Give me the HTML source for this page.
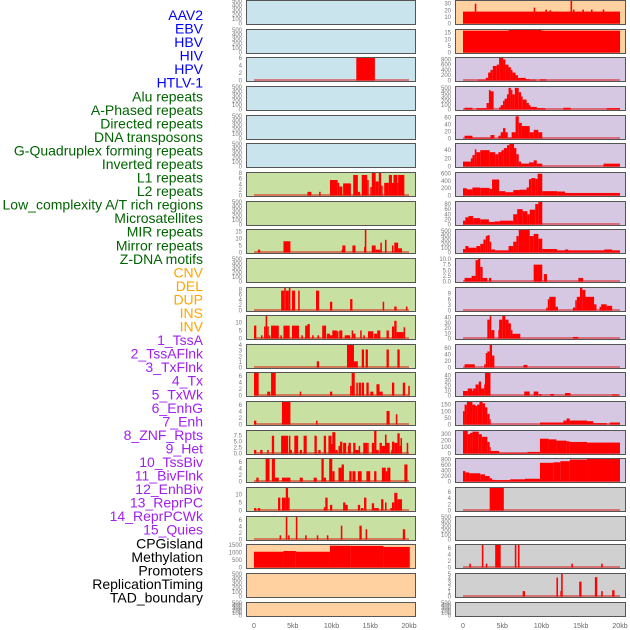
<!DOCTYPE html>
<html><head><meta charset="utf-8"><style>
html,body{margin:0;padding:0;background:#fff;}
svg{display:block;font-family:"Liberation Sans",sans-serif;}
</style></head><body>
<svg id="chart" width="630" height="630" viewBox="0 0 630 630" xmlns="http://www.w3.org/2000/svg"></svg>
<script>
const labels = ["AAV2","EBV","HBV","HIV","HPV","HTLV-1","Alu repeats","A-Phased repeats","Directed repeats","DNA transposons","G-Quadruplex forming repeats","Inverted repeats","L1 repeats","L2 repeats","Low_complexity A/T rich regions","Microsatellites","MIR repeats","Mirror repeats","Z-DNA motifs","CNV","DEL","DUP","INS","INV","1_TssA","2_TssAFlnk","3_TxFlnk","4_Tx","5_TxWk","6_EnhG","7_Enh","8_ZNF_Rpts","9_Het","10_TssBiv","11_BivFlnk","12_EnhBiv","13_ReprPC","14_ReprPCWk","15_Quies","CPGisland","Methylation","Promoters","ReplicationTiming","TAD_boundary"];
const labelGroups = [6,13,5,15,5];
const xTicks = [0,5,10,15,20];
const xTickLabels = ["0","5kb","10kb","15kb","20kb"];
const emptyTicks = [0,100,200,300,400,500];

const L2 = [[13.2,15.6,6]];
const L6 = [[6.9,7.4,1.3],[8.4,8.6,1.3],[9.8,10.8,5.5],[10.8,11.0,4.5],[11.0,11.4,3.2],[11.5,12.5,4.3],[12.8,13.4,7.3],[13.4,13.7,1.3],[13.9,14.6,7.3],[14.6,14.8,5.5],[15.0,15.2,3],[15.2,15.7,8],[15.7,16.1,5],[16.1,16.4,8],[16.4,16.6,3.5],[16.8,17.4,4.5],[17.4,17.8,7.3],[17.8,18.0,4.5],[18.0,18.5,7.3],[18.5,18.6,4.5],[18.6,19.4,7.3]];
const L8 = [[0.5,0.8,2],[3.8,4.7,8],[11.3,11.4,2],[11.4,11.8,5],[12.7,13.1,5],[14.2,14.3,4],[14.3,14.5,16],[15.2,15.7,5],[15.7,16.3,2],[16.3,16.5,7],[16.9,17.1,9],[17.8,18.0,5],[18.1,18.6,7],[18.6,19.1,3]];
const L10 = [[3.5,3.9,7.5],[3.9,4.1,8.5],[4.1,4.5,7.5],[4.5,4.7,8.5],[4.9,5.3,7.5],[5.7,5.9,7.5],[8.0,8.4,7.5],[9.8,10.1,3.3],[12.4,12.7,4.3],[16.6,16.8,3.3],[18.1,18.4,1.5],[19.6,19.8,1.5]];
const L11 = [[0,0.3,8],[0.9,1.1,2],[1.3,1.5,7.5],[1.5,1.7,14],[1.7,1.9,7.5],[1.9,2.1,2],[2.2,3.2,8],[3.4,3.6,2],[3.8,4.6,8],[4.9,5.8,8],[6.1,6.3,2],[6.6,6.9,8],[6.9,7.2,9],[7.5,7.7,2],[8.2,8.4,2],[8.8,9.3,8],[9.4,9.8,3],[9.8,10.1,2],[10.1,10.7,5],[10.7,10.9,4.5],[11.0,11.4,5],[11.7,12.4,2],[12.6,12.8,5],[12.8,13.1,3],[13.7,13.9,5],[14.1,14.3,2],[14.7,15.4,4.5],[15.5,15.9,3],[15.9,16.3,5],[17.1,17.4,5],[17.8,18.1,7.5],[18.1,18.4,11],[18.4,19.3,4],[19.3,19.5,7]];
const L12 = [[8.1,8.4,1.1],[12.0,12.9,4],[12.9,13.4,1.1],[13.9,14.2,3.2],[14.4,14.7,3.2],[17.1,17.4,3.2],[18.5,18.8,3.2]];
const L13 = [[0,0.6,7],[1.7,2.1,1.2],[2.2,2.8,7],[5.9,6.1,1.2],[9.8,10.1,1.2],[12.4,12.6,3],[12.6,13.0,7],[13.2,13.4,4],[13.5,13.8,4],[13.9,14.2,4],[14.5,14.8,4],[15.0,15.4,1.2],[15.8,16.2,3.5],[16.2,16.6,1.2],[17.8,18.1,4],[19.2,19.5,4],[19.9,20.1,3]];
const L14 = [[0,0.3,1.2],[3.6,4.7,7],[8.0,8.2,1.2],[17.1,17.5,4.2],[18.3,18.5,3.2]];
const L15 = [[0,0.3,1.5],[0.8,1.1,1.5],[1.7,1.9,1.5],[2.3,2.6,7.5],[3.5,4.4,7.5],[4.5,4.7,7.5],[4.7,4.9,1.5],[5.2,5.7,7.5],[5.9,6.2,1.5],[6.4,6.8,7.5],[7.8,8.1,7.5],[8.3,8.6,1.5],[9.0,9.3,7.5],[9.6,10.0,7.5],[10.0,10.2,4],[10.1,10.5,9],[10.5,10.8,1.5],[10.9,11.2,3.2],[11.1,11.4,5],[11.5,11.9,4.5],[12.1,12.4,3.2],[12.2,12.5,4.5],[12.8,13.1,4.5],[13.1,13.5,1.5],[13.5,13.7,3.2],[14.1,14.6,4.5],[14.6,14.8,4.5],[15.2,15.5,4.5],[15.5,15.8,9.5],[15.8,16.1,1.5],[16.2,16.5,4.5],[16.5,16.9,3.2],[16.9,17.1,8],[17.1,17.5,4.5],[17.7,17.8,1.5],[17.8,18.1,5],[18.1,18.5,4.5],[18.5,18.8,8.5],[18.8,19.1,3.2],[18.9,19.1,6.5],[19.7,19.9,4.5]];
const L16 = [[0.3,0.6,1.2],[1.5,2.0,7],[2.3,2.7,7],[2.7,3.2,1.2],[3.6,4.7,1.2],[5.9,6.3,1.2],[7.7,8.1,1.2],[8.7,9.0,7],[9.0,9.3,1.2],[9.7,10.1,7],[10.1,10.4,3.2],[10.9,11.3,4.3],[11.3,11.6,5.3],[12.3,12.6,3.2],[12.7,13.1,3.2],[13.4,13.9,3.2],[14.5,15.0,3.2],[15.5,15.8,3.2],[16.5,17.0,4.3],[17.0,17.2,3.2],[17.2,17.6,4.3],[19.4,19.8,5.3]];
const L17 = [[0,0.3,1.5],[0.5,0.8,1.5],[3.1,3.4,8],[3.6,4.1,8],[4.1,4.4,14],[4.4,4.6,8],[9.0,9.2,2],[9.2,9.5,8],[9.8,10.1,3.5],[11.5,11.8,5],[11.8,12.1,3.5],[13.4,13.7,3.5],[13.8,14.1,1.5],[14.2,14.5,8],[15.2,15.5,4.5],[15.5,16.1,1.5],[16.4,16.7,7],[16.9,17.1,5],[17.6,17.8,1.5],[17.8,18.1,5],[18.1,18.5,11],[18.5,19.1,7]];
const L18 = [[3.3,3.5,1.3],[4.1,4.3,7],[4.4,4.6,1.3],[5.4,5.6,7],[6.6,6.8,1.3],[8.1,8.3,1.3],[9.4,9.6,1.3],[11.2,11.4,4.3],[13.6,13.9,4.3],[14.4,14.6,3.2],[19.2,19.5,3.2]];
const L19 = [[0,3.8,1050],[3.8,5.4,1100],[5.4,9.8,1050],[9.8,12.4,1450],[12.4,16.7,1440],[16.7,20.1,1370]];

const R0 = [[0,20,18],[1.5,1.7,30],[9.0,9.2,24],[10.5,10.7,21],[11.0,11.2,20],[13.7,13.9,34],[14.0,14.2,21],[15.2,15.4,21],[16.3,16.5,21],[17.8,18.0,21]];
const R1 = [[0,20,16.5],[5.8,10,17]];
const R2 = [[1.9,2.9,30],[2.9,3.2,100],[3.2,3.5,300],[3.5,3.8,400],[3.8,4.3,550],[4.3,4.6,600],[4.6,5.1,850],[5.1,5.4,800],[5.4,5.8,600],[5.8,6.1,500],[6.1,6.3,400],[6.3,6.7,300],[6.7,7.0,200],[7.0,8.0,100],[8.0,8.5,50],[8.5,9.3,30],[9.8,10.6,40]];
const R3 = [[0.2,1.2,40],[1.7,3.0,30],[3.0,3.3,150],[3.3,3.5,450],[3.5,3.9,420],[4.6,4.8,50],[4.8,5.1,100],[5.1,5.3,200],[5.3,5.6,250],[5.6,5.8,350],[5.8,6.1,500],[6.1,6.3,450],[6.3,6.6,350],[6.6,7.1,500],[7.1,7.4,400],[7.4,7.6,300],[7.6,8.1,230],[8.1,8.4,150],[8.4,8.6,100],[8.6,9.4,60],[9.4,10.5,30],[12.8,13.7,40],[18.3,20,30]];
const R4 = [[0.2,1.2,8],[1.2,3.5,2],[3.5,4.0,10],[4.5,4.8,8],[4.8,5.1,18],[5.1,5.4,30],[5.4,5.7,18],[5.7,6.2,2],[6.2,6.7,18],[6.7,7.1,64],[7.1,7.5,45],[7.5,8.5,36],[8.5,9.0,18],[9.0,9.6,25],[9.6,10.1,18]];
const R5 = [[0,1.0,12],[1.0,1.2,20],[1.2,1.5,28],[1.5,1.7,42],[1.7,2.2,35],[2.2,3.4,40],[3.4,4.1,35],[4.1,4.5,30],[4.5,4.9,35],[4.9,5.2,40],[5.2,5.6,45],[5.6,5.9,52],[5.9,6.5,55],[6.5,6.8,45],[6.8,7.1,30],[7.1,7.4,12],[7.4,8.4,7],[8.4,9.0,10],[9.0,9.4,15],[9.4,10.1,7],[17.9,20,7]];
const R6 = [[0,0.5,200],[0.5,1.2,170],[1.2,2.2,220],[2.2,3.4,210],[3.4,3.7,180],[3.7,4.6,440],[4.6,5.4,120],[5.4,6.4,90],[6.4,7.2,150],[7.2,8.1,160],[8.1,8.4,220],[8.4,8.7,450],[8.7,9.2,480],[9.2,9.5,460],[9.5,10.1,600],[10.1,12.0,120],[12.0,13.0,110],[13.0,20,70]];
const R7 = [[0,0.3,15],[0.3,0.7,28],[0.7,1.3,33],[1.3,2.2,25],[2.2,3.3,20],[3.3,4.0,10],[4.0,4.7,12],[4.7,6.4,15],[6.4,6.9,40],[6.9,7.6,60],[7.6,8.2,52],[8.2,8.5,40],[8.5,9.2,58],[9.2,9.6,80],[9.6,10.1,88]];
const R8 = [[0,0.3,80],[0.3,0.7,150],[0.7,1.7,110],[1.7,2.2,150],[2.2,2.6,200],[2.6,2.9,300],[2.9,3.1,380],[3.1,3.4,400],[3.4,3.6,250],[3.6,4.1,70],[4.1,5.8,50],[5.8,6.4,150],[6.4,6.8,250],[6.8,7.1,380],[7.1,8.5,520],[8.5,9.0,380],[9.0,9.6,430],[9.6,10.1,320],[10.1,12.0,80],[12.0,20,50],[13.0,13.4,70],[18.0,19.0,70]];
const R9 = [[0.2,1.1,1.6],[1.1,1.6,2.5],[1.6,1.9,9.5],[1.9,2.2,10],[2.2,2.5,6.5],[2.5,3.1,1.6],[3.3,3.6,1.6],[9.0,10.1,7.5],[10.3,10.7,3.3],[14.7,15.3,1.6]];
const R10 = [[10.6,10.8,1.5],[10.8,11.0,6],[11.0,11.8,7.3],[11.8,12.1,2],[14.0,14.3,1.6],[14.3,14.5,5.5],[14.5,14.9,7.3],[14.9,15.2,12],[15.2,15.6,11],[15.6,16.7,7.3],[16.7,17.0,3.3],[17.4,17.6,2],[17.6,18.3,3.3],[18.3,19.0,2.5]];
const R11 = [[3.1,3.4,36],[3.4,3.6,43],[3.6,4.0,16],[4.5,4.6,16],[4.6,5.0,36],[5.0,5.4,43],[5.4,5.8,36],[5.8,6.1,29],[6.1,6.3,16],[6.3,7.3,9],[14.0,14.7,3]];
const R12 = [[0.2,1.5,10],[2.7,2.9,10],[2.9,3.1,45],[3.1,3.4,50],[3.4,3.7,70],[3.7,4.0,37],[7.7,8.2,8]];
const R13 = [[0,0.6,9],[0.6,1.2,14],[1.2,1.3,9],[1.3,1.6,14],[1.6,2.0,22],[2.0,2.3,28],[2.3,2.7,14],[2.7,2.8,22],[2.8,3.5,45],[7.8,8.5,8],[9.0,9.6,8],[9.7,10.0,3],[11.1,11.6,3],[13.0,13.7,5],[19.0,19.8,2]];
const R14 = [[0,0.2,100],[0.2,0.5,150],[0.5,1.2,170],[1.2,1.6,150],[1.6,1.8,140],[1.8,2.1,150],[2.1,2.5,170],[2.5,2.8,160],[2.8,3.1,130],[3.1,3.4,80],[3.4,3.5,40],[9.8,12.8,15],[12.8,13.2,30],[13.2,13.6,45],[13.6,15.8,30],[15.8,16.6,25],[16.6,18.3,10],[18.7,20,15]];
const R15 = [[0,0.6,350],[0.6,0.9,300],[0.9,1.2,320],[1.2,2.0,340],[2.0,2.4,300],[2.4,3.1,260],[3.1,3.4,180],[3.4,3.5,100],[3.5,4.6,40],[4.6,8.2,10],[8.2,9.8,25],[9.8,10.9,230],[10.9,11.9,220],[11.9,13.2,200],[13.2,13.6,190],[13.6,15.8,180],[15.8,20,170]];
const R16 = [[0,0.3,380],[0.3,0.8,330],[0.8,2.2,300],[2.2,2.8,260],[2.8,3.4,200],[3.4,3.7,120],[3.7,4.1,60],[4.1,6.0,50],[6.0,7.9,80],[7.9,9.8,100],[9.8,11.5,680],[11.5,12.4,700],[12.4,13.6,740],[13.6,15.8,800],[15.8,20,820]];
const R17 = [[3.4,5.2,7.2]];
const R19 = [[0.8,1.0,1.2],[2.4,2.6,7],[2.9,3.1,1.2],[4.1,4.8,7],[6.6,6.8,7],[7.0,7.2,7],[13.8,14.0,1.2],[17.6,17.8,1.2]];
const R20 = [[7.6,7.9,1.2],[11.9,12.1,4.2],[12.4,12.5,1.2],[12.5,12.7,5],[14.8,15.1,3.3],[16.8,17.1,4.3],[17.6,17.8,1.2],[19.0,19.3,1.4]];

const leftPanels = [null,null,[L2,6,[0,2,4,6]],null,null,null,[L6,8,[0,2,4,6,8]],null,[L8,16,[0,5,10,15]],null,[L10,8.5,[0,2,4,6,8]],[L11,14,[0,5,10]],[L12,4,[0,1,2,3,4]],[L13,7,[0,2,4,6]],[L14,7,[0,2,4,6]],[L15,9.5,[0,2.5,5,7.5]],[L16,7,[0,2,4,6]],[L17,14,[0,5,10]],[L18,7,[0,2,4,6]],[L19,1500,[0,500,1000,1500]],null,null];
const rightPanels = [[R0,34,[0,10,20,30]],[R1,17,[0,5,10,15]],[R2,850,[0,200,400,600,800]],[R3,520,[0,100,200,300,400,500]],[R4,65,[0,20,40,60]],[R5,55,[0,20,40]],[R6,620,[0,200,400,600]],[R7,88,[0,20,40,60,80]],[R8,520,[0,100,200,300,400,500]],[R9,10,[0,2.5,5,7.5,10]],[R10,12,[0,3,6,9]],[R11,43,[0,10,20,30,40]],[R12,70,[0,20,40,60]],[R13,45,[0,10,20,30,40]],[R14,170,[0,50,100,150]],[R15,350,[0,100,200,300]],[R16,820,[0,200,400,600,800]],[R17,7.2,[0,2,4,6]],null,[R19,7,[0,2,4,6]],[R20,5,[0,1,2,3,4,5]],null];

const NS = "http://www.w3.org/2000/svg";
const svg = document.getElementById("chart");
function mk(tag, attrs, parent){const e=document.createElementNS(NS,tag);for(const k in attrs)e.setAttribute(k,attrs[k]);(parent||svg).appendChild(e);return e;}

const groupColors = ["#0000ff","#006400","#ffa500","#a020f0","#000000"];
let gi=0, cnt=0;
labels.forEach((t,i)=>{
  while(cnt>=labelGroups[gi]){cnt=0;gi++;}
  cnt++;
  const e=mk("text",{x:203,y:15+i*13.545+5,"text-anchor":"end","font-size":"14",fill:groupColors[gi]});
  e.textContent=t;
  
  
});

const leftBg = i => i<6 ? "#c9e4ec" : (i<19 ? "#c8e0a2" : "#ffd0a0");
const rightBg = i => i<2 ? "#ffd0a0" : (i<17 ? "#d6c8e2" : "#d0d0d0");

function drawPanel(col, i, spec){
  const px = col===0 ? 246 : 455, pw = col===0 ? 170 : 171;
  const scale = col===0 ? 7.75 : 7.85;
  const top = Math.round(i*28.65);
  const h = i===21 ? 15 : 25;
  const g = mk("g",{});
  
  
  const bg = mk("rect",{x:px+0.5,y:top+0.5,width:pw-1,height:h-1,fill:col===0?leftBg(i):rightBg(i),stroke:"#555","stroke-width":1},g);
  
  
  const xs = kb => px+8+kb*scale;
  const base = top+h-1.5;
  const ymax = spec ? spec[1] : 500;
  const ys = v => base - v/ymax*(h-2.5);
  const ticks = spec ? spec[2] : emptyTicks;
  const dec = spec && ((col===0&&spec[0]===L15)||(col===1&&spec[0]===R9));
  ticks.forEach(tv=>{
    const t=mk("text",{x:px-4,y:ys(tv)+2,"text-anchor":"end","font-size":"6",fill:"#777"},g);
    t.textContent = dec ? tv.toFixed(1) : String(tv);
    
    
  });
  if(!spec) return;
  const bl = mk("line",{x1:xs(0),x2:xs(20),y1:base-0.5,y2:base-0.5,stroke:"rgba(220,0,0,0.45)","stroke-width":2},g);
  
  
  spec[0].forEach(d=>{
    const x1=xs(d[0]), x2=xs(d[1]);
    const r=mk("rect",{x:x1,y:ys(d[2]),width:Math.max(1,x2-x1),height:base-ys(d[2]),fill:"#ff0000"},g);
    
    
  });
}
for(let i=0;i<22;i++){drawPanel(0,i,leftPanels[i]);drawPanel(1,i,rightPanels[i]);}

[0,1].forEach(col=>{
  const px = col===0 ? 246 : 455, scale = col===0 ? 7.75 : 7.85;
  xTicks.forEach((kb,j)=>{
    const t=mk("text",{x:px+8+kb*scale,y:628,"text-anchor":"middle","font-size":"7",fill:"#666"});
    t.textContent=xTickLabels[j];
    
    
  });
});
</script>
</body></html>
